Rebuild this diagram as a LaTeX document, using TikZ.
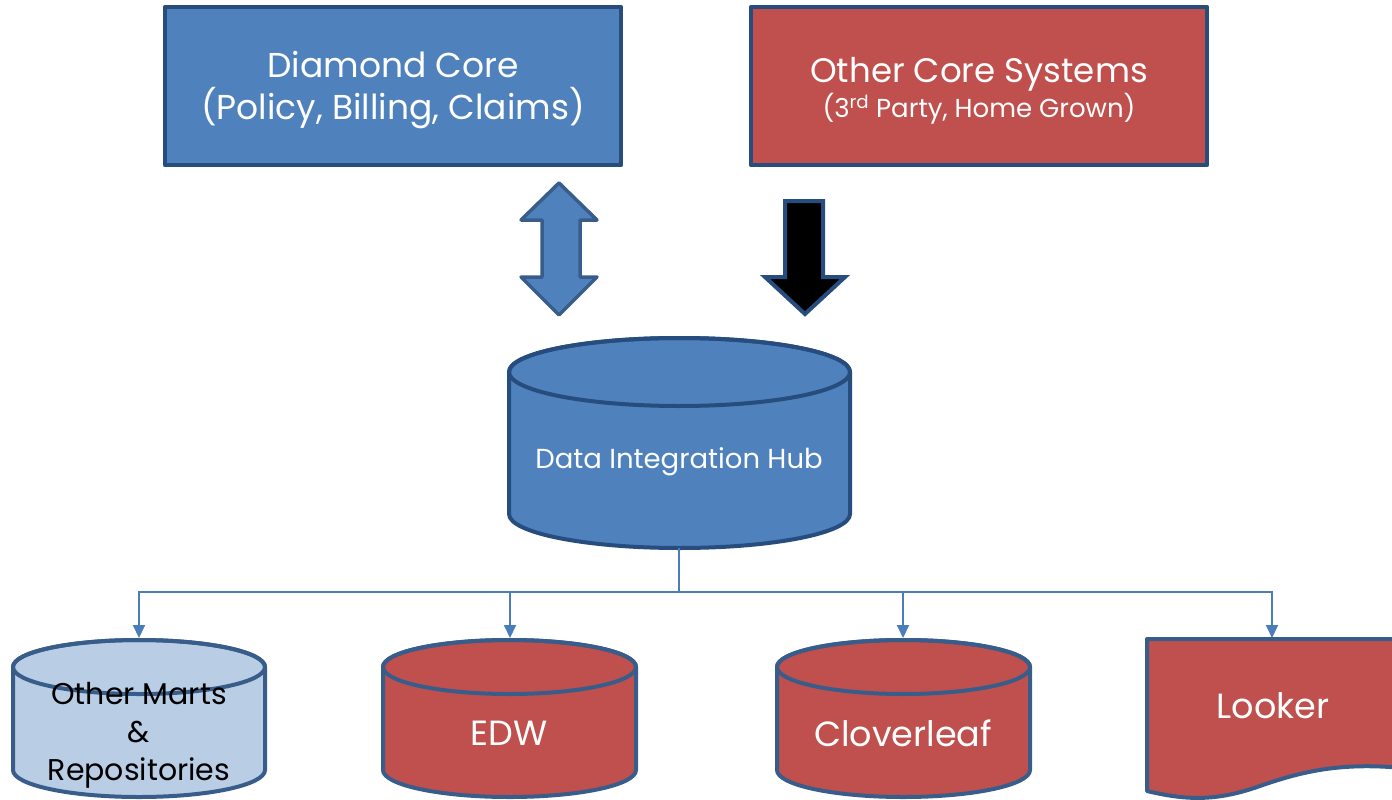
\documentclass[tikz,border=0pt]{standalone}
\usepackage{fontspec}
\setmainfont{Poppins}
\usetikzlibrary{arrows.meta}
\definecolor{blueF}{HTML}{4F81BD}
\definecolor{blueD}{HTML}{385D8A}
\definecolor{boxD}{HTML}{264D7E}
\definecolor{redF}{HTML}{C0504D}
\definecolor{lightF}{HTML}{B9CDE5}
\definecolor{connC}{HTML}{4A7EBB}
\tikzset{
  box/.style={line width=4.5pt, draw=boxD, line join=round},
  cyl/.style={line width=4pt, draw=blueD, line join=round},
  conn/.style={draw=connC, line width=2pt, -{Triangle[width=12pt,length=13pt]}},
  bigtxt/.style={text=white, align=center, font=\fontsize{34.5}{42}\selectfont},
  midtxt/.style={text=white, align=center, font=\fontsize{35}{40}\selectfont},
}
\begin{document}
\begin{tikzpicture}[x=1pt,y=-1pt]
\useasboundingbox (0,0) rectangle (1392,800);
% top boxes
\filldraw[box, fill=blueF] (165,7) rectangle (621,165);
\node[bigtxt] (dc) at (393,90) {Diamond Core\\(Policy, Billing, Claims)};
\filldraw[box, fill=redF] (751,7) rectangle (1207,165);
\node[text=white, align=center] (oc) at (979,91) {\fontsize{34}{40}\selectfont Other Core Systems\\[1pt]\fontsize{26}{32}\selectfont (3\textsuperscript{rd} Party, Home Grown)};
% block arrows
\filldraw[line width=3.5pt, draw=blueD, fill=blueF, line join=round]
  (559,183) -- (521,220) -- (542,220) -- (542,277) -- (521,277) -- (559,315)
  -- (597,277) -- (580,277) -- (580,220) -- (597,220) -- cycle;
\filldraw[line width=4pt, draw=boxD, fill=black, line join=miter]
  (785,201) -- (823,201) -- (823,277) -- (845,277) -- (805,314) -- (765,277) -- (785,277) -- cycle;
% hub cylinder
\filldraw[cyl, draw=boxD, fill=blueF] (509,372) -- (509,514) arc[start angle=180, end angle=0, x radius=170.5, y radius=34]
  -- (850,372) arc[start angle=0, end angle=-180, x radius=170.5, y radius=34] -- cycle;
\draw[cyl, draw=boxD] (679.5,372) ellipse[x radius=170.5, y radius=34];
\node[text=white, font=\fontsize{27.5}{32}\selectfont] (hub) at (679,462) {Data Integration Hub};
\coordinate (hubbot) at (679,548);
\coordinate (bus) at (679,592);
% bottom cylinders
\filldraw[cyl, fill=lightF] (13,667) -- (13,770) arc[start angle=180, end angle=0, x radius=126, y radius=27]
  -- (265,667) arc[start angle=0, end angle=-180, x radius=126, y radius=27] -- cycle;
\draw[cyl] (139,667) ellipse[x radius=126, y radius=27];
\node[text=black, align=center, font=\fontsize{30}{38}\selectfont] (om) at (139,735) {Other Marts\\\&\\Repositories};
\coordinate (omtop) at (139,638);

\filldraw[cyl, fill=redF] (383,667) -- (383,770) arc[start angle=180, end angle=0, x radius=126.5, y radius=27]
  -- (636,667) arc[start angle=0, end angle=-180, x radius=126.5, y radius=27] -- cycle;
\draw[cyl] (509.5,667) ellipse[x radius=126.5, y radius=27];
\node[midtxt] (edw) at (509,733) {EDW};
\coordinate (edwtop) at (510,638);

\filldraw[cyl, fill=redF] (777,667) -- (777,770) arc[start angle=180, end angle=0, x radius=126.5, y radius=27]
  -- (1030,667) arc[start angle=0, end angle=-180, x radius=126.5, y radius=27] -- cycle;
\draw[cyl] (903.5,667) ellipse[x radius=126.5, y radius=27];
\node[midtxt] (clv) at (903,733) {Cloverleaf};
\coordinate (clvtop) at (903,638);

\filldraw[cyl, fill=redF] (1147,639) -- (1402,639) -- (1402,768)
  .. controls (1340,762) and (1300,772) .. (1260,786)
  .. controls (1215,802) and (1185,800) .. (1147,791) -- cycle;
\node[midtxt] (look) at (1273,706) {Looker};
\coordinate (looktop) at (1272,638);
% connectors
\draw[draw=connC, line width=2pt] (hubbot) -- (bus);
\draw[conn] (bus) -| (omtop);
\draw[conn] (bus) -| (edwtop);
\draw[conn] (bus) -| (clvtop);
\draw[conn] (bus) -| (looktop);
\end{tikzpicture}
\end{document}
